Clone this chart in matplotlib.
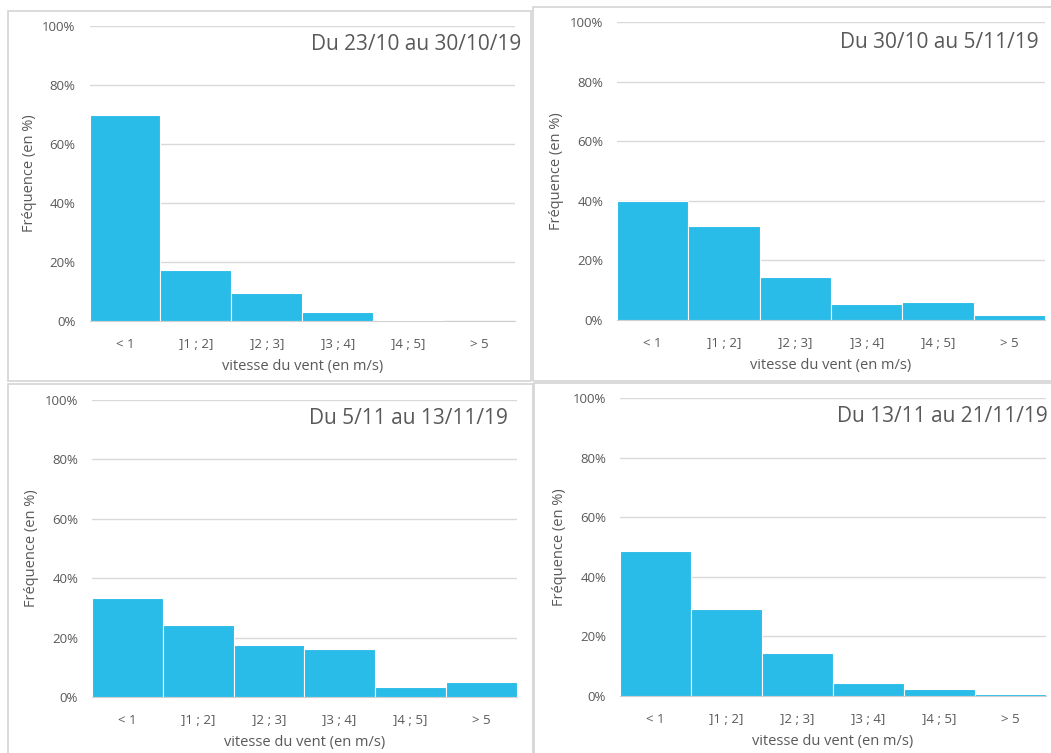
import matplotlib
matplotlib.use("Agg")
import matplotlib.pyplot as plt
from matplotlib.patches import Rectangle
from matplotlib.ticker import PercentFormatter

plt.rcParams['font.family'] = ['Open Sans', 'DejaVu Sans']

W, H = 1051, 753

categories = ["< 1", "]1 ; 2]", "]2 ; 3]", "]3 ; 4]", "]4 ; 5]", "> 5"]
titles = ["Du 23/10 au 30/10/19", "Du 30/10 au 5/11/19",
          "Du 5/11 au 13/11/19", "Du 13/11 au 21/11/19"]

# frequences en %
freq_p1 = [69.8, 17.3, 9.4, 2.9, 0.5, 0.0]
freq_p2 = [40.0, 31.6, 14.3, 5.3, 6.0, 1.7]
freq_p3 = [33.5, 24.2, 17.4, 16.0, 3.2, 5.1]
freq_p4 = [48.8, 29.1, 14.5, 4.2, 2.4, 0.6]
all_freq = [freq_p1, freq_p2, freq_p3, freq_p4]

bar_color = "#29BCE8"
txt_color = "#595959"
grid_color = "#D9D9D9"

# pixel boxes: (left, right, y of 0%, y of 100%) for axes, and frame boxes
axes_px = [(89.5, 515, 321, 26), (617, 1045, 320, 22),
           (92, 516.5, 697, 400), (620, 1046, 696, 398)]
frame_px = [(8, 531, 11, 381), (533, 1053, 7, 381),
            (8, 533, 384, 755), (534, 1053, 383, 755)]
title_px = [(521, 45), (1039, 42), (508, 419), (1048, 417)]

fig = plt.figure(figsize=(W / 100, H / 100), dpi=100)
fig.patch.set_facecolor("white")

for (x0, x1, y0, y1) in frame_px:
    fig.patches.append(Rectangle((x0 / W, 1 - y1 / H), (x1 - x0) / W, (y1 - y0) / H,
                                 transform=fig.transFigure, fill=False,
                                 edgecolor="#D4D4D4", linewidth=1.2))

for i in range(4):
    l, r, yb, yt = axes_px[i]
    ax = fig.add_axes([l / W, 1 - yb / H, (r - l) / W, (yb - yt) / H])
    ax.bar(range(len(categories)), all_freq[i], width=1.0, color=bar_color,
           edgecolor="white", linewidth=0.8, zorder=3)
    ax.set_xlim(-0.5, len(categories) - 0.5)
    ax.set_ylim(0, 100)
    ax.set_yticks([0, 20, 40, 60, 80, 100])
    ax.yaxis.set_major_formatter(PercentFormatter(decimals=0))
    ax.set_xticks(range(len(categories)))
    ax.set_xticklabels(categories)
    ax.grid(axis="y", color=grid_color, linewidth=1.0, zorder=0)
    for s in ["top", "right", "left"]:
        ax.spines[s].set_visible(False)
    ax.spines["bottom"].set_color("#D0D0D0")
    ax.spines["bottom"].set_zorder(2)
    ax.tick_params(axis="both", length=0, labelsize=9.5, colors=txt_color)
    ax.tick_params(axis="y", pad=10)
    ax.tick_params(axis="x", pad=12)
    ax.set_xlabel("vitesse du vent (en m/s)", fontsize=10.5, color=txt_color, labelpad=6)
    ax.set_ylabel("Fréquence (en %)", fontsize=10.5, color=txt_color, labelpad=4)
    tx, ty = title_px[i]
    fig.text(tx / W, 1 - ty / H, titles[i], ha="right", va="center",
             fontsize=15, color=txt_color)

fig.savefig("out.png", dpi=100, facecolor="white")
